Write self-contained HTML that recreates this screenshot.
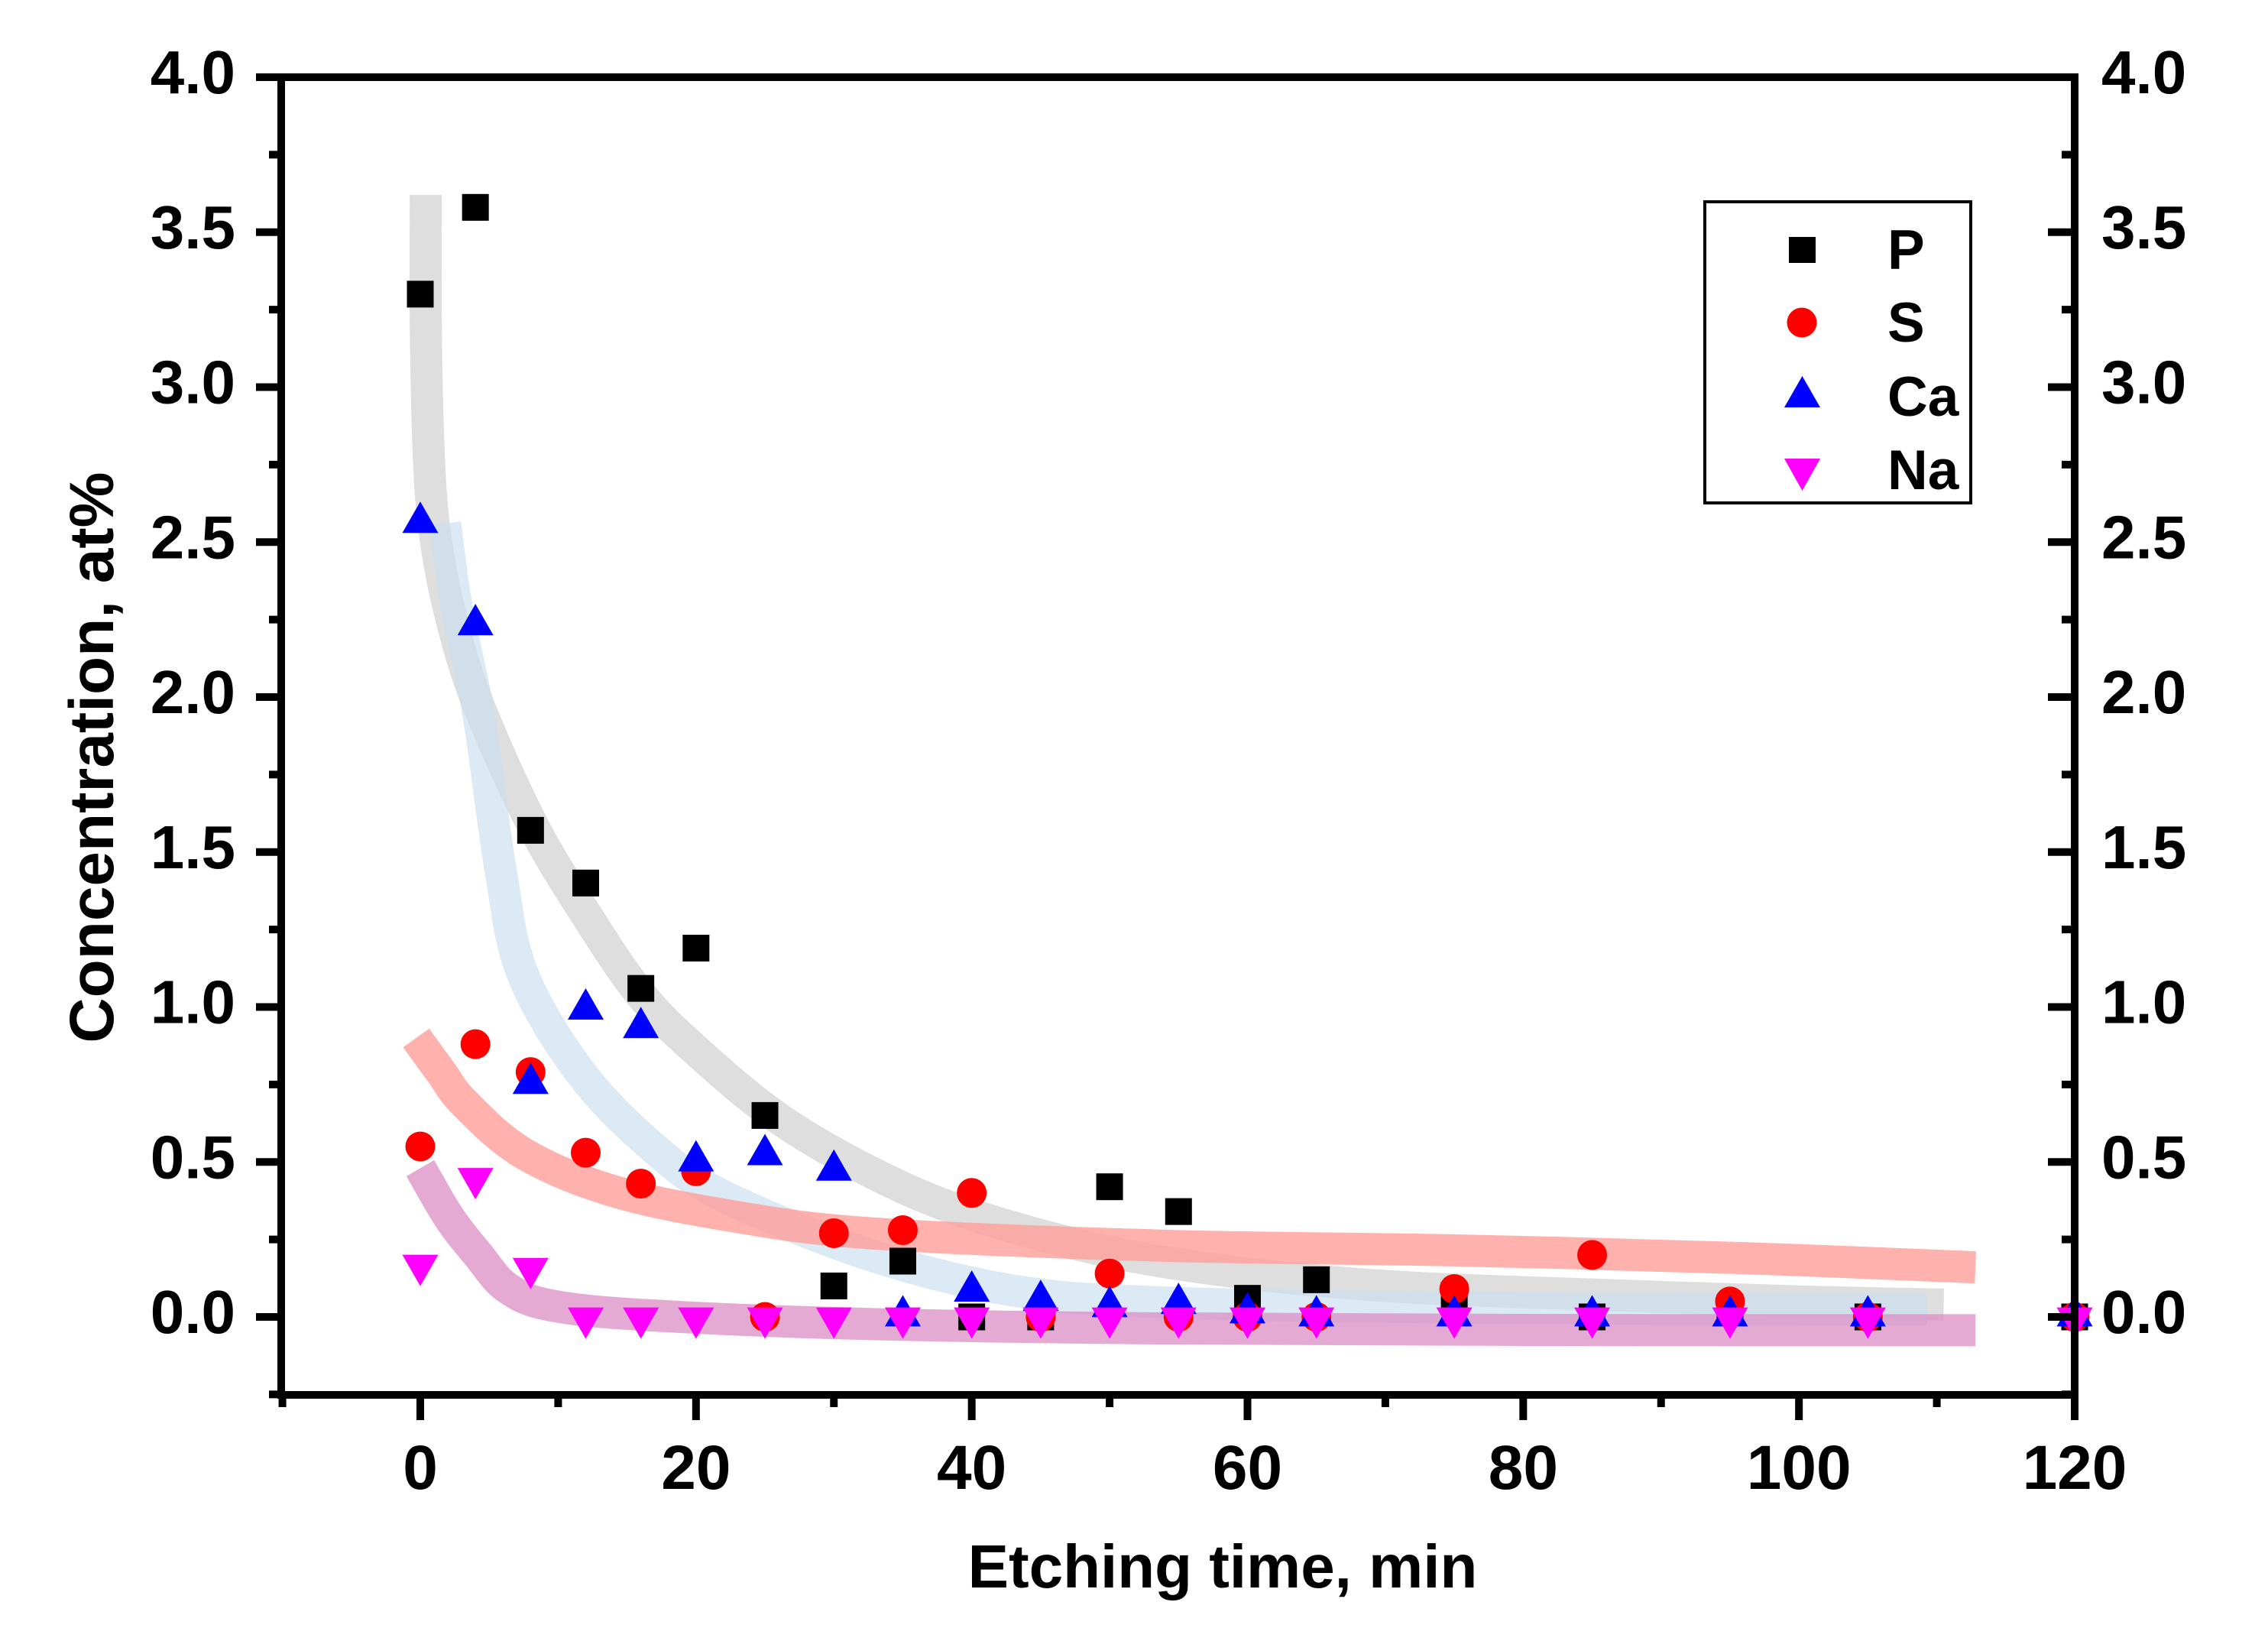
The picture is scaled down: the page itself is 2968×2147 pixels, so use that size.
<!DOCTYPE html>
<html><head><meta charset="utf-8"><style>
html,body{margin:0;padding:0;background:#fff;}
svg{display:block;font-family:"Liberation Sans",Arial,sans-serif;font-weight:bold;}
</style></head><body>
<svg id="chart" xmlns="http://www.w3.org/2000/svg" width="2968" height="2147" viewBox="0 0 2968 2147">
<rect width="2968" height="2147" fill="#fff"/>
<g id="bands"></g>
<g id="marks"></g>
<g id="axes"></g>
<text x="1600" y="2077" font-size="80" text-anchor="middle">Etching time, min</text>
<text transform="translate(148,991) rotate(-90)" font-size="82" text-anchor="middle">Concentration, at%</text>
<g>
<rect x="2231" y="264" width="348" height="394" fill="#fff" stroke="#000" stroke-width="4"/>
<rect x="2341" y="310" width="35" height="34" fill="#000"/>
<text x="2470" y="352" font-size="73">P</text>
<circle cx="2358" cy="422" r="19.5" fill="#f00"/>
<text x="2470" y="447" font-size="73">S</text>
<polygon points="2335,533 2382,533 2358.5,492" fill="#00f"/>
<text x="2470" y="544" font-size="73">Ca</text>
<polygon points="2335,600 2382,600 2358.5,642" fill="#f0f"/>
<text x="2470" y="640" font-size="73">Na</text>
</g>
</svg>
<script>
const times = [0,4,8,12,16,20,25,30,35,40,45,50,55,60,65,75,85,95,105,120];
const pValues = [3.30,3.58,1.57,1.40,1.06,1.19,0.65,0.10,0.18,0.00,0.00,0.42,0.34,0.06,0.12,0.07,0.00,0.03,0.00,0.00];
const sValues = [0.55,0.88,0.79,0.53,0.43,0.47,0.00,0.27,0.28,0.40,0.00,0.14,0.00,0.00,0.00,0.09,0.20,0.05,0.00,0.00];
const caValues = [2.58,2.25,0.77,1.01,0.95,0.52,0.54,0.49,0.02,0.10,0.07,0.05,0.06,0.03,0.02,0.02,0.02,0.02,0.02,0.02];
const naValues = [0.15,0.43,0.14,-0.02,-0.02,-0.02,-0.02,-0.02,-0.02,-0.02,-0.02,-0.02,-0.02,-0.02,-0.02,-0.02,-0.02,-0.02,-0.02,-0.02];

const pFitX = [0.4,0.4,0.6,1.0,2,4,8,12,16,20,26,33,40,50,60,70,80,100,110.5];
const pFitY = [3.62,3.2,2.8,2.55,2.3,2.0,1.6,1.30,1.04,0.86,0.64,0.46,0.33,0.21,0.14,0.10,0.08,0.05,0.04];
const caFitX = [1.8,2.6,4.2,5.8,7.4,11.6,16.8,22,32.6,43,53.7,75,100,109.3];
const caFitY = [2.56,2.3,1.95,1.45,1.11,0.79,0.55,0.39,0.20,0.085,0.047,0.03,0.025,0.025];
const sFitX = [-0.3,1.5,3.2,7.4,13.7,22,32.6,53.7,74.7,95.8,112.8];
const sFitY = [0.90,0.79,0.69,0.53,0.41,0.33,0.27,0.23,0.215,0.19,0.16];
const naFitX = [0,2.1,4.2,6.3,9.5,16.8,32.6,53.7,80,112.8];
const naFitY = [0.48,0.32,0.20,0.094,0.037,0.005,-0.023,-0.037,-0.042,-0.043];

const yTicks = ['0.0','0.5','1.0','1.5','2.0','2.5','3.0','3.5','4.0'];
const xTicks = ['0','20','40','60','80','100','120'];

const NS='http://www.w3.org/2000/svg';
const X = v => 550 + (v)*(2715-550)/120;
const Y = v => 1723 - v*405.5;
function mk(tag, attrs, parent){const e=document.createElementNS(NS,tag);for(const k in attrs)e.setAttribute(k,attrs[k]);parent.appendChild(e);return e;}

const bands=document.getElementById('bands');
function band(xs,ys,color,op,name){
  const pts=xs.map((x,i)=>[X(x),Y(ys[i])]);
  let d='M'+pts[0][0].toFixed(1)+','+pts[0][1].toFixed(1);
  for(let i=0;i<pts.length-1;i++){
    const p0=pts[Math.max(0,i-1)],p1=pts[i],p2=pts[i+1],p3=pts[Math.min(pts.length-1,i+2)];
    const c1=[p1[0]+(p2[0]-p0[0])/6,p1[1]+(p2[1]-p0[1])/6];
    const c2=[p2[0]-(p3[0]-p1[0])/6,p2[1]-(p3[1]-p1[1])/6];
    d+='C'+c1[0].toFixed(1)+','+c1[1].toFixed(1)+' '+c2[0].toFixed(1)+','+c2[1].toFixed(1)+' '+p2[0].toFixed(1)+','+p2[1].toFixed(1);
  }
  const p=mk('path',{d:d,fill:'none',stroke:color,'stroke-width':42,'stroke-opacity':op,'stroke-linejoin':'round'},bands);
  
  
}
band(pFitX,pFitY,'#dedede',1,'fit-curve-p');
band(caFitX,caFitY,'#c9def1',0.65,'fit-curve-ca');
band(sFitX,sFitY,'#ff9e9a',0.8,'fit-curve-s');
band(naFitX,naFitY,'#dc8ec4',0.75,'fit-curve-na');

const marks=document.getElementById('marks');
times.forEach((t,i)=>{
  const x=X(t);
  const sq=mk('rect',{x:x-17.5,y:Y(pValues[i])-17.5,width:35,height:35,fill:'#000'},marks);
  
  
});
times.forEach((t,i)=>{
  const c=mk('circle',{cx:X(t),cy:Y(sValues[i]),r:19.5,fill:'#f00'},marks);
  
  
});
times.forEach((t,i)=>{
  const x=X(t),y=Y(caValues[i]);
  const tr=mk('polygon',{points:`${x-23.5},${y+20.5} ${x+23.5},${y+20.5} ${x},${y-20.5}`,fill:'#00f'},marks);
  
  
});
times.forEach((t,i)=>{
  const x=X(t),y=Y(naValues[i]);
  const tr=mk('polygon',{points:`${x-23.5},${y-20.5} ${x+23.5},${y-20.5} ${x},${y+20.5}`,fill:'#f0f'},marks);
  
  
});

const axes=document.getElementById('axes');
const frame=mk('rect',{x:368,y:101,width:2347,height:1724,fill:'none',stroke:'#000','stroke-width':10},axes);


for(let v=-0.25; v<=4.001; v+=0.25){
  const y=Y(v); const major=Math.abs(v*2-Math.round(v*2))<1e-6;
  const l=mk('line',{x1:368,x2:major?335:352,y1:y,y2:y,stroke:'#000','stroke-width':10},axes);
  
  
  const r=mk('line',{x1:2715,x2:major?2680:2698,y1:y,y2:y,stroke:'#000','stroke-width':10},axes);
  
  
}
yTicks.forEach(lbl=>{
  const y=Y(parseFloat(lbl));
  const t=mk('text',{x:308,y:y+21,'font-size':80,'text-anchor':'end'},axes);
  t.textContent=lbl;
  
  
  const t2=mk('text',{x:2750,y:y+21,'font-size':80},axes);
  t2.textContent=lbl;
  
  
});
for(let v=-10; v<=120; v+=10){
  const x=X(v); const major=v%20===0;
  const l=mk('line',{x1:x,x2:x,y1:1825,y2:major?1858:1841,stroke:'#000','stroke-width':10},axes);
  
  
}
xTicks.forEach(lbl=>{
  const t=mk('text',{x:X(parseFloat(lbl)),y:1948,'font-size':82,'text-anchor':'middle'},axes);
  t.textContent=lbl;
  
  
});
</script>
</body></html>
